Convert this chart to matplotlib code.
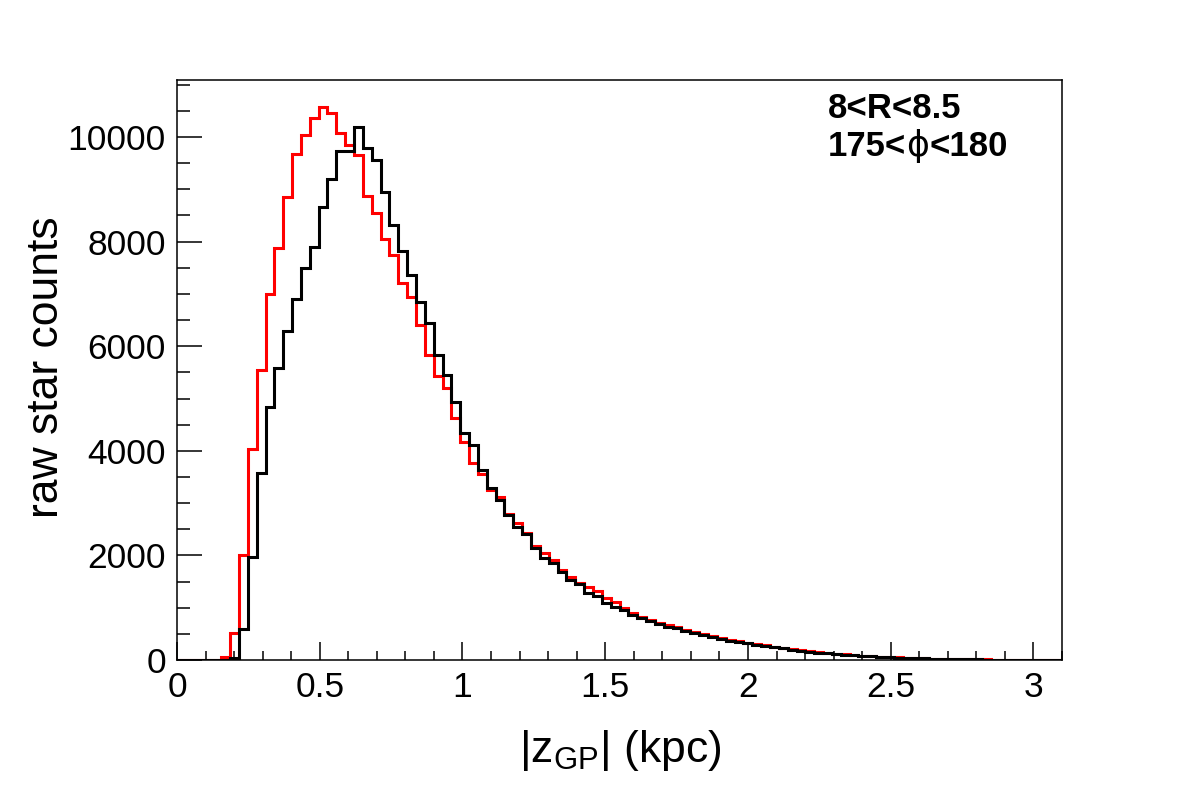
import numpy as np
import matplotlib
matplotlib.use("Agg")
import matplotlib.pyplot as plt
from matplotlib.ticker import MultipleLocator

plt.rcParams['font.family'] = ['Liberation Sans', 'DejaVu Sans']
plt.rcParams['mathtext.fontset'] = 'custom'
plt.rcParams['mathtext.rm'] = 'Liberation Sans'
plt.rcParams['mathtext.it'] = 'Liberation Sans'

# histogram binning: 100 bins over |z| in [0, 3.1] kpc
z_min = 0.0
z_max = 3.1
n_bins = 100

red_counts = [
    0, 0, 0, 0, 5, 50, 520, 2010, 4040, 5550,
    7000, 7880, 8850, 9680, 10030, 10370, 10565, 10450, 10070, 9850,
    9660, 8870, 8550, 8050, 7745, 7200, 6950, 6405, 5830, 5430,
    5195, 4620, 4175, 3760, 3550, 3260, 3120, 2790, 2610, 2420,
    2180, 2040, 1910, 1730, 1580, 1470, 1390, 1325, 1180, 1100,
    990, 905, 830, 765, 715, 670, 625, 575, 540, 497,
    460, 415, 385, 355, 330, 305, 280, 255, 232, 210,
    188, 168, 150, 134, 120, 106, 94, 82, 72, 63,
    55, 48, 41, 36, 31, 27, 23, 19, 16, 14,
    12, 10, 9, 7, 6, 5, 4, 4, 3, 2,
]

black_counts = [
    0, 0, 0, 0, 0, 0, 30, 590, 1970, 3570,
    4830, 5585, 6285, 6900, 7490, 7900, 8655, 9190, 9740, 9740,
    10190, 9785, 9560, 8955, 8325, 7815, 7360, 6850, 6450, 5830,
    5450, 4940, 4335, 4120, 3633, 3283, 3059, 2772, 2549, 2409,
    2135, 1944, 1849, 1689, 1530, 1460, 1287, 1224, 1096, 1020,
    956, 860, 797, 752, 688, 637, 605, 561, 510, 478,
    433, 395, 365, 340, 318, 292, 268, 245, 223, 200,
    180, 160, 143, 128, 115, 102, 90, 78, 68, 60,
    52, 45, 39, 34, 29, 25, 21, 18, 15, 13,
    11, 9, 8, 7, 6, 5, 4, 3, 3, 2,
]

y_max = 11090
label_line1 = "8<R<8.5"
label_line2_parts = ["175<", "\u03d5", "<180"]
x_title = r"|z$_{\mathregular{GP}}$| (kpc)"
y_title = "raw star counts"

edges = np.linspace(z_min, z_max, n_bins + 1)

fig = plt.figure(figsize=(11.82, 8.05), dpi=100)
ax = fig.add_axes([177/1182, 1 - 660/805, (1062 - 177)/1182, (660 - 80)/805])

ax.stairs(red_counts, edges, color='#ff0000', linewidth=2.2, baseline=None)
ax.stairs(black_counts, edges, color='black', linewidth=2.2, baseline=None)

ax.set_xlim(z_min, z_max)
ax.set_ylim(0, y_max)

ax.xaxis.set_major_locator(MultipleLocator(0.5))
ax.xaxis.set_minor_locator(MultipleLocator(0.1))
ax.yaxis.set_major_locator(MultipleLocator(2000))
ax.yaxis.set_minor_locator(MultipleLocator(500))
ax.xaxis.set_major_formatter(plt.FuncFormatter(lambda v, p: f"{v:g}"))
ax.yaxis.set_major_formatter(plt.FuncFormatter(lambda v, p: f"{v:.0f}"))

ax.tick_params(axis='both', which='both', direction='in', top=False, right=False,
               width=1.1, labelsize=25.5)
ax.tick_params(axis='y', which='major', length=18, pad=8)
ax.tick_params(axis='y', which='minor', length=9)
ax.tick_params(axis='x', which='major', length=13, pad=8)
ax.tick_params(axis='x', which='minor', length=6.5)
for sp in ax.spines.values():
    sp.set_linewidth(1.1)

fig.text(620/1182, 1 - 750/805, x_title, fontsize=32, ha='center', va='center')
fig.text(47/1182, 1 - 367/805, y_title, fontsize=32, ha='center', va='center', rotation=90)

fig.text(828/1182, 1 - 118/805, label_line1, fontsize=25, fontweight='bold',
         ha='left', va='baseline')

# second line: bold numbers with a thin (regular) phi glyph in between
fig.canvas.draw()
renderer = fig.canvas.get_renderer()
x_px = 828
y_fig = 1 - 156/805
weights = ['bold', 'normal', 'bold']
fams = [['Liberation Sans', 'DejaVu Sans'], ['DejaVu Sans'], ['Liberation Sans', 'DejaVu Sans']]
for part, w, fam in zip(label_line2_parts, weights, fams):
    t = fig.text(x_px/1182, y_fig, part, fontsize=25, fontweight=w, family=fam,
                 ha='left', va='baseline')
    bb = t.get_window_extent(renderer=renderer)
    x_px += bb.width

fig.savefig("out.png", dpi=100)
